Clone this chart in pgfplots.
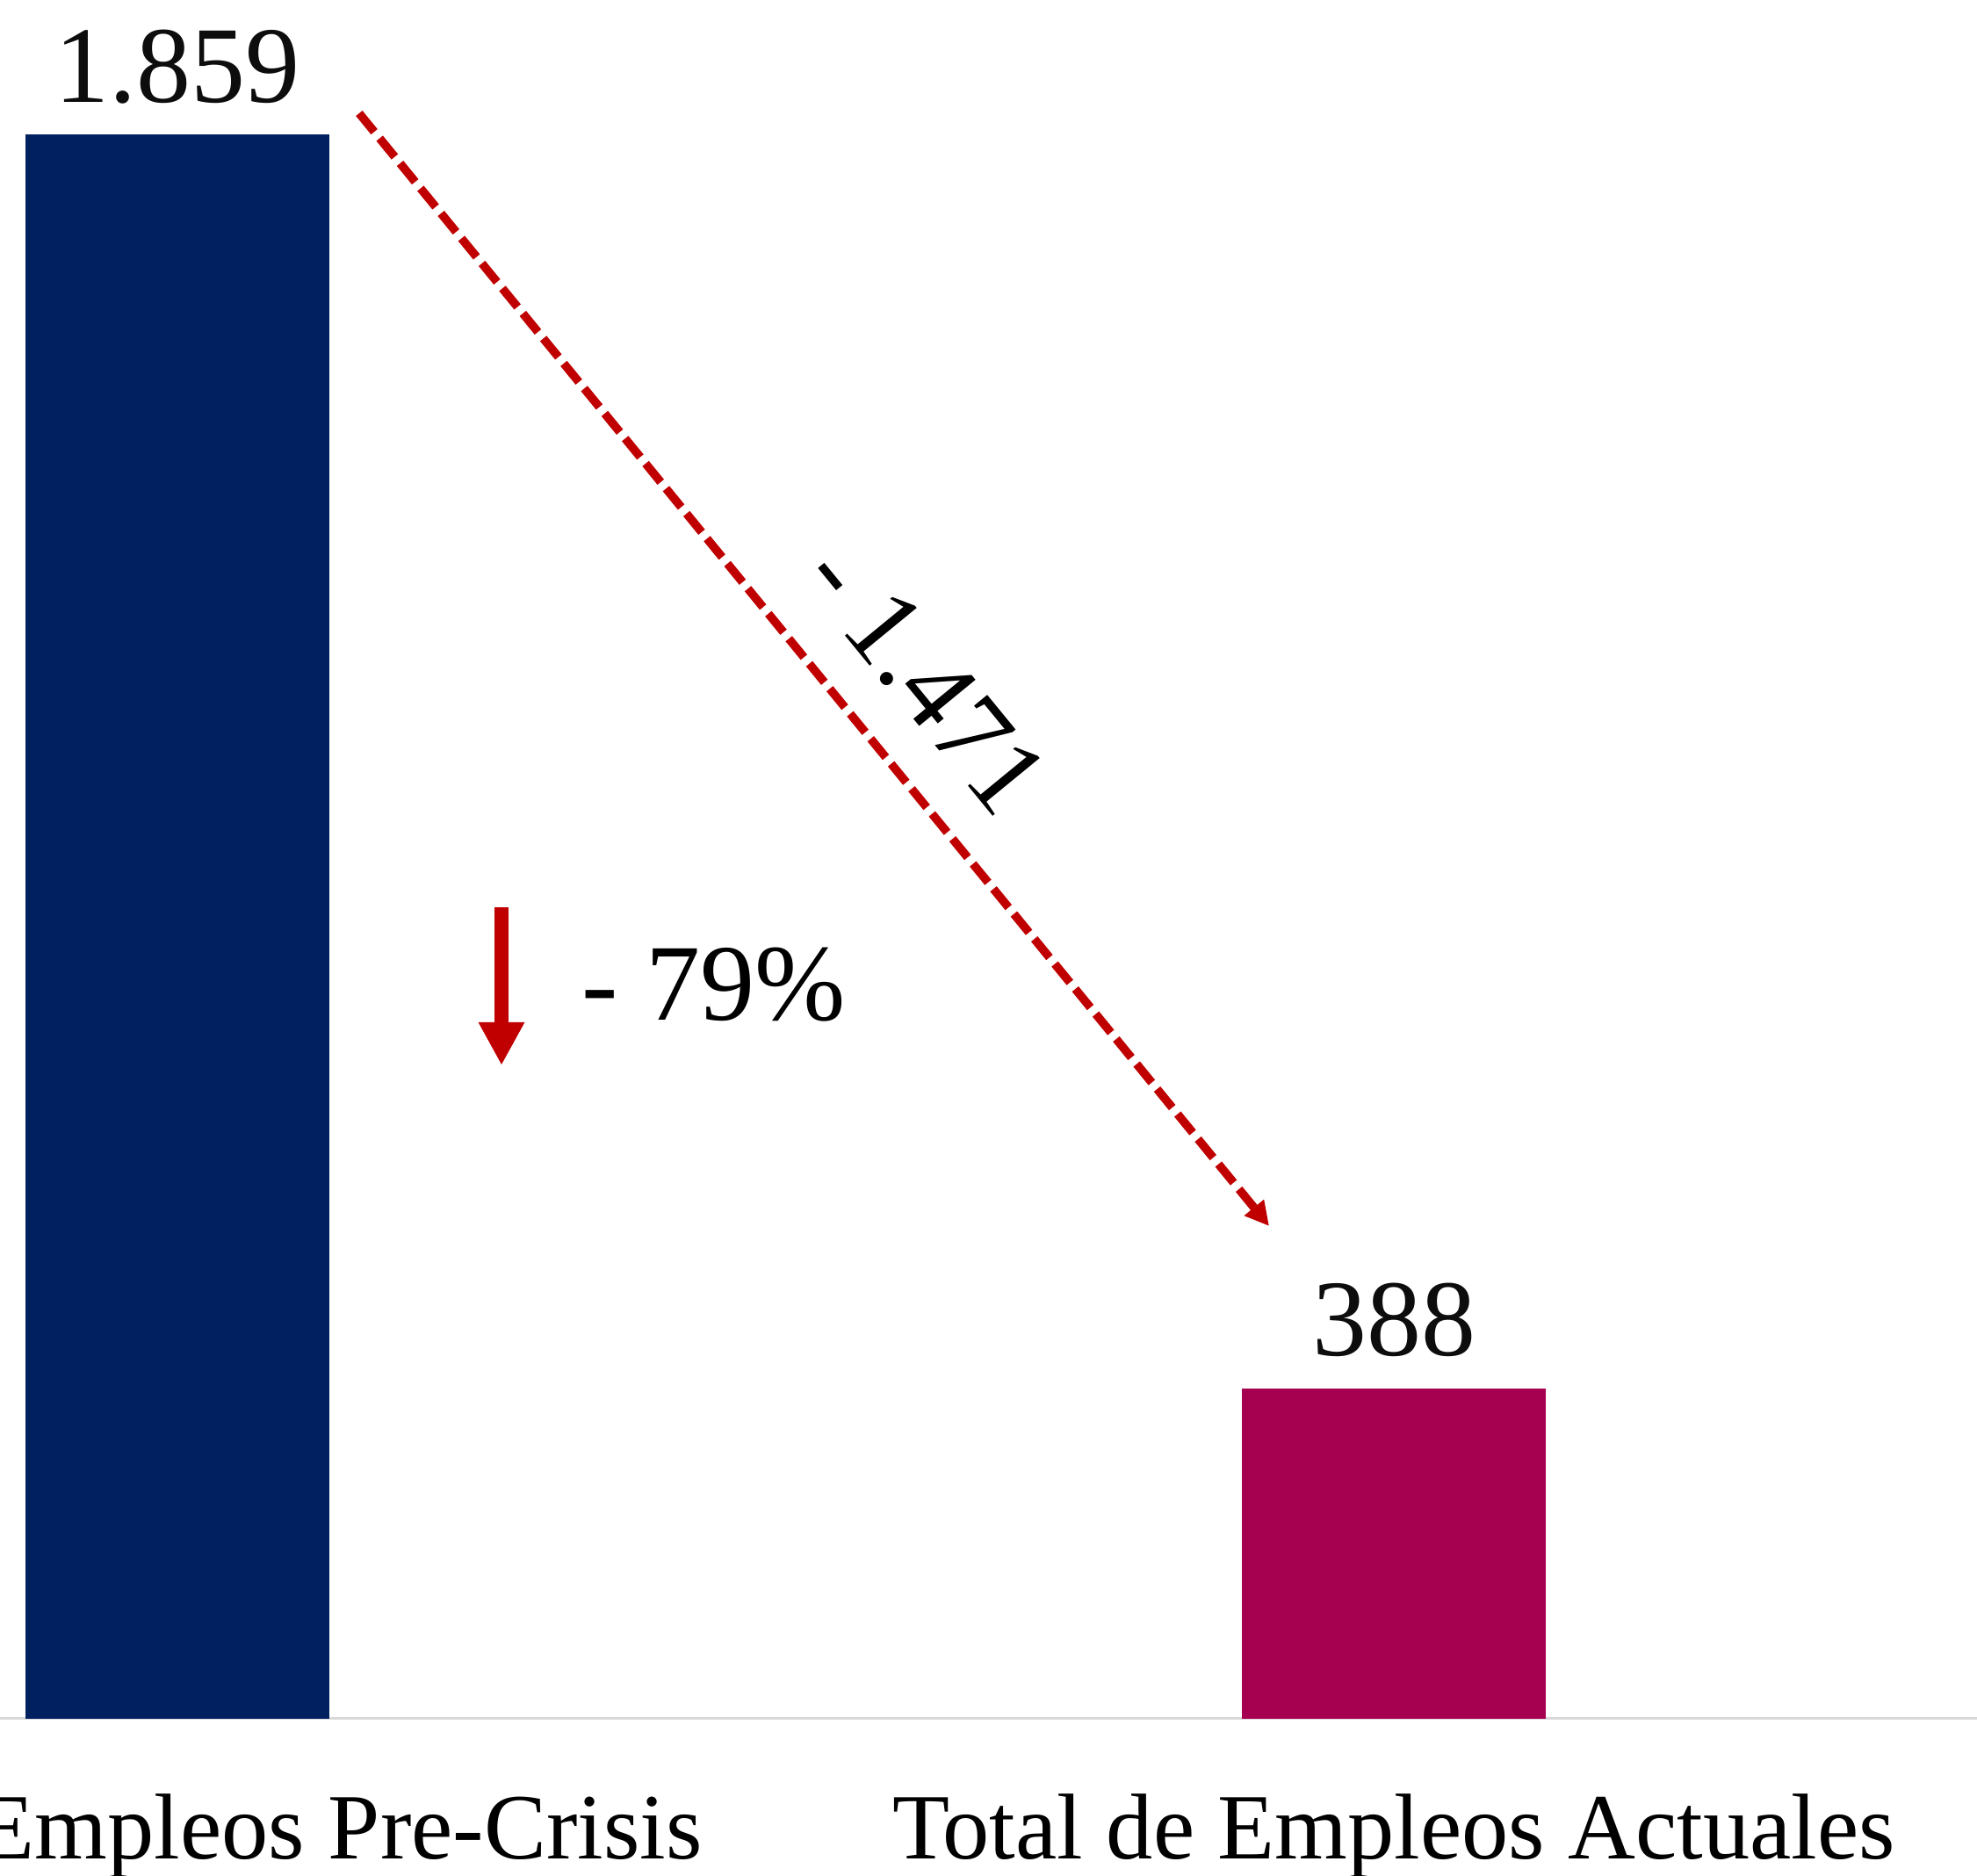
\documentclass[border=0pt]{standalone}
\usepackage{pgfplots}
\pgfplotsset{compat=1.18}
\usepackage{fontspec}
\setmainfont{Liberation Serif}
\usetikzlibrary{arrows.meta}
\definecolor{navy}{RGB}{0,32,96}
\definecolor{berry}{RGB}{166,0,80}
\definecolor{darkred}{RGB}{192,0,0}
\definecolor{axgray}{RGB}{217,217,217}
\begin{document}
\begin{tikzpicture}
\begin{axis}[
  scale only axis,
  width=562.75pt, height=489.25pt,
  xmin=-0.1456, xmax=1.4793,
  ymin=0, ymax=2017,
  axis x line=bottom, axis y line=none,
  x axis line style={draw=axgray, line width=0.75pt, -},
  xtick={0,1},
  xticklabels={Total de Empleos Pre-Crisis, Total de Empleos Actuales},
  major tick length=0pt,
  xticklabel style={font=\fontsize{26.6}{30}\selectfont, anchor=base, yshift=-40pt, inner sep=0pt},
  ytick=\empty,
  clip=false,
  ybar, bar width=86.5pt, bar shift=0pt,
  point meta=explicit symbolic,
  nodes near coords,
  every node near coord/.append style={font=\fontsize{31}{36}\selectfont, anchor=base, yshift=9.25pt, inner sep=0pt, text=black!95},
]
\addplot[fill=navy, draw=none] coordinates {(0,1859) [1.859]};
\addplot[fill=berry, draw=none] coordinates {(1,388) [388]};
\coordinate (bl) at (rel axis cs:0,0);
\coordinate (tr) at (rel axis cs:1,1);
\draw[darkred, line width=2.4pt, dash pattern=on 6.8pt off 2.4pt, -{Triangle[length=6.8pt,width=6.8pt]}]
  (axis cs:0.1496,1884.0) -- (axis cs:0.8975,578.2);
\node[rotate=-50.66, font=\fontsize{31.5}{36}\selectfont, inner sep=0pt, anchor=center] at (axis cs:0.6150,1222) {- 1.471};
\draw[darkred, line width=4pt, -{Triangle[length=12.3pt,width=12.3pt]}]
  (axis cs:0.2666,952.3) -- (axis cs:0.2666,766.8);
\node[font=\fontsize{31}{36}\selectfont, inner sep=0pt, anchor=base west] at (axis cs:0.3323,819.4) {- 79\%};
\end{axis}
\pgfresetboundingbox
\path[use as bounding box] (bl) ++(0,-44.75pt) rectangle (tr);
\end{tikzpicture}
\end{document}
